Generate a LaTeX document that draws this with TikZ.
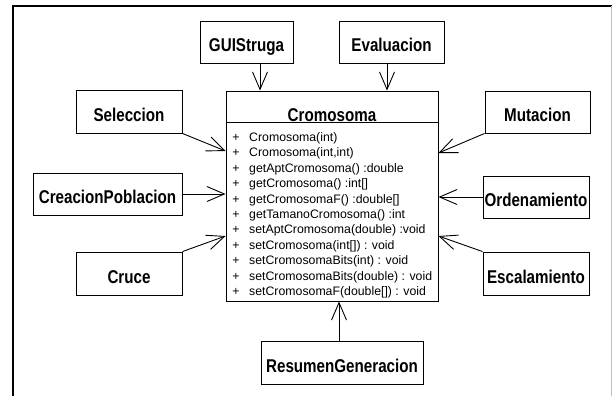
\documentclass[tikz,border=0pt]{standalone}
\usepackage{fontspec}
\setmainfont{Liberation Sans}
\newfontfamily\namefont[FakeStretch=0.82]{Liberation Sans}
\usetikzlibrary{arrows.meta}
\begin{document}
\begin{tikzpicture}[x=1bp,y=-1bp,
  cls/.style={draw, line width=0.9bp, inner sep=0pt,
    font=\namefont\bfseries\fontsize{18.5bp}{20bp}\selectfont,
    text height=19.3bp, text depth=0bp},
  arr/.style={line width=0.9bp, -{Straight Barb[length=17.5bp,width=15bp]}},
  meth/.style={inner sep=0pt, anchor=base west, font=\fontsize{12.3bp}{14bp}\selectfont},
  plus/.style={inner sep=0pt, anchor=base, font=\fontsize{12.3bp}{14bp}\selectfont}]
\useasboundingbox (0,0) rectangle (612,396);
\fill[white] (0,0) rectangle (612,396);
% frame
\draw[line width=2bp] (13,396) -- (13,6) -- (612,6);
\draw[black!25, line width=1bp] (611,6) -- (611,396);
% classes
\node[cls, minimum width=93bp,  minimum height=42bp] (gui)  at (246.5,42)  {GUIStruga};
\node[cls, minimum width=105bp, minimum height=42bp] (eval) at (391.5,42)  {Evaluacion};
\node[cls, minimum width=106bp, minimum height=43bp] (sel)  at (129,111.5) {Seleccion};
\node[cls, minimum width=105bp, minimum height=42bp] (mut)  at (537.5,112) {Mutacion};
\node[cls, minimum width=149bp, minimum height=42bp] (crea) at (107.5,194) {CreacionPoblacion};
\node[cls, minimum width=106bp, minimum height=42bp] (ord)  at (536,197)   {Ordenamiento};
\node[cls, minimum width=106bp, minimum height=43bp] (cru)  at (129,273.5) {Cruce};
\node[cls, minimum width=106bp, minimum height=43bp] (esc)  at (536,273.5) {Escalamiento};
\node[cls, minimum width=162bp, minimum height=43bp] (res)  at (342,362.5) {ResumenGeneracion};
% Cromosoma class
\node[draw, line width=0.9bp, minimum width=212bp, minimum height=210bp, inner sep=0pt] (crom) at (332,196) {};
\coordinate (ydiv) at (0,122.5);
\draw[line width=0.9bp] (crom.west |- ydiv) -- (crom.east |- ydiv);
\node[inner sep=0pt, anchor=base, font=\namefont\bfseries\fontsize{18.5bp}{20bp}\selectfont] (cname) at (332,121) {Cromosoma};
\foreach \m [count=\i from 0] in {{Cromosoma(int)},{Cromosoma(int,int)},{getAptCromosoma() :double},{getCromosoma() :int[]},{getCromosomaF() :double[]},{getTamanoCromosoma() :int},{setAptCromosoma(double) :void},{setCromosoma(int[]) : void},{setCromosomaBits(int) : void},{setCromosomaBits(double) : void},{setCromosomaF(double[]) : void}} {
  \node[plus] (p\i) at (236,{141.5+15.4*\i}) {+};
  \node[meth] (m\i) at (249,{141.5+15.4*\i}) {\m};
}
% connectors
\coordinate (xg) at (260,0);
\coordinate (xe) at (387,0);
\coordinate (xr) at (339,0);
\coordinate (ys) at (0,151);
\coordinate (ym) at (0,153);
\coordinate (yc) at (0,194);
\coordinate (yo) at (0,197);
\coordinate (yx) at (0,236);
\draw[arr] (gui.south -| xg) -- (crom.north -| xg);
\draw[arr] (eval.south -| xe) -- (crom.north -| xe);
\draw[arr] (sel.south east) -- (crom.west |- ys);
\draw[arr] (mut.south west) -- (crom.east |- ym);
\draw[arr] (crea.east |- yc) -- (crom.west |- yc);
\draw[arr] (ord.west |- yo) -- (crom.east |- yo);
\draw[arr] (cru.north east) -- (crom.west |- yx);
\draw[arr] (esc.north west) -- (crom.east |- yx);
\draw[arr] (res.north -| xr) -- (crom.south -| xr);
\end{tikzpicture}
\end{document}
